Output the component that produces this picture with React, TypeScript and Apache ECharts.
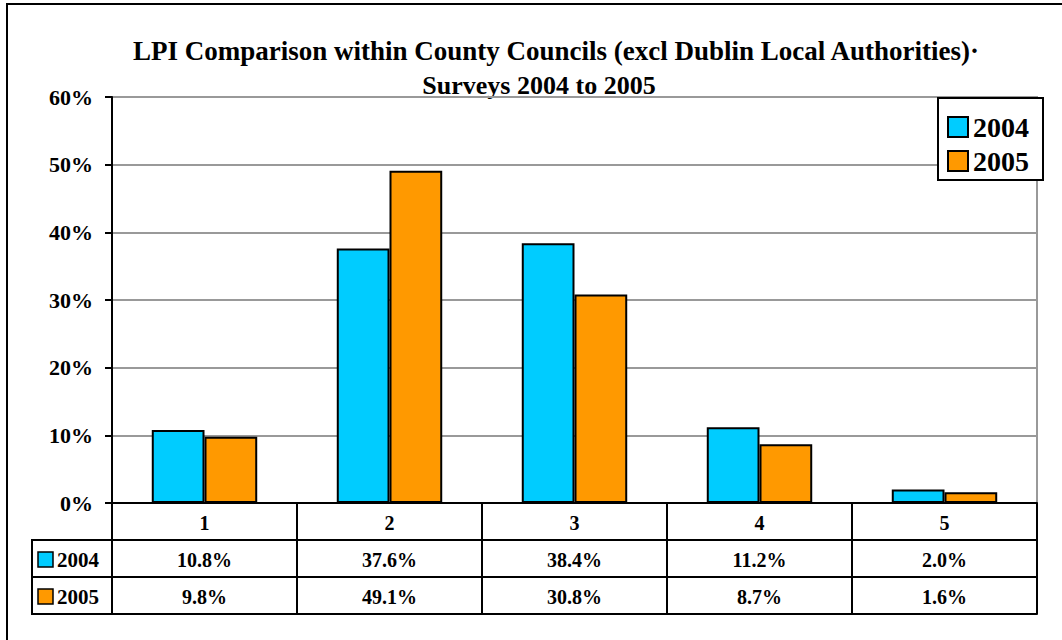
import React, { useEffect, useRef } from "react";
import * as echarts from "echarts";

const categories = ["1", "2", "3", "4", "5"];
const seriesNames = ["2004", "2005"];
const values2004 = [10.8, 37.6, 38.4, 11.2, 2.0];
const values2005 = [9.8, 49.1, 30.8, 8.7, 1.6];
const seriesValues = [values2004, values2005];
const titleLines = [
  "LPI Comparison within County Councils (excl Dublin Local Authorities)·",
  "Surveys 2004 to 2005",
];
const colors = ["#00CCFF", "#FF9900"];

const FONT = "'Liberation Serif', 'Times New Roman', serif";
const fmt = (v: number) => v.toFixed(1) + "%";

export default function App() {
  const ref = useRef<HTMLDivElement>(null);
  useEffect(() => {
    if (!ref.current) return;
    const chart = echarts.init(ref.current, null, { renderer: "svg" });
    const black = { color: "#000", width: 2 };
    const tableLabel = {
      color: "#000",
      fontFamily: FONT,
      fontWeight: "bold" as const,
      fontSize: 20,
      interval: 0,
      margin: 10,
    };
    const rowAxis = (offset: number, vals: number[] | null) => ({
      type: "category",
      data: categories,
      position: "bottom",
      offset,
      axisLine: { show: true, lineStyle: black },
      axisTick: { show: false },
      axisLabel: vals
        ? { ...tableLabel, formatter: (_v: string, i: number) => fmt(vals[i]) }
        : { show: false },
      splitLine: { show: false },
    });

    const graphic: any[] = [
      {
        type: "rect",
        shape: { x: 7, y: 4, width: 1200, height: 1000 },
        style: { fill: "none", stroke: "#000", lineWidth: 2 },
        silent: true,
      },
      {
        type: "text",
        x: 556,
        y: 51,
        style: {
          text: titleLines[0],
          fill: "#000",
          font: `bold 27px ${FONT}`,
          textAlign: "center",
          textVerticalAlign: "middle",
        },
      },
      {
        type: "text",
        x: 539,
        y: 85,
        style: {
          text: titleLines[1],
          fill: "#000",
          font: `bold 26px ${FONT}`,
          textAlign: "center",
          textVerticalAlign: "middle",
        },
      },
      {
        type: "rect",
        shape: { x: 32, y: 540, width: 80, height: 74 },
        style: { fill: "none", stroke: "#000", lineWidth: 2 },
      },
      {
        type: "line",
        shape: { x1: 32, y1: 577, x2: 112, y2: 577 },
        style: { stroke: "#000", lineWidth: 2 },
      },
    ];
    seriesNames.forEach((name, i) => {
      const cy = 559 + i * 37;
      graphic.push({
        type: "rect",
        shape: { x: 38, y: cy - 7, width: 15, height: 15 },
        style: { fill: colors[i], stroke: "#000", lineWidth: 1.5 },
      });
      graphic.push({
        type: "text",
        x: 57,
        y: cy + 1,
        style: {
          text: name,
          fill: "#000",
          font: `bold 21px ${FONT}`,
          textAlign: "left",
          textVerticalAlign: "middle",
        },
      });
    });

    chart.setOption({
      animation: false,
      backgroundColor: "#fff",
      grid: {
        left: 112,
        right: 25,
        top: 97,
        bottom: 137,
        show: true,
        borderColor: "#999",
        borderWidth: 2,
        backgroundColor: "transparent",
      },
      legend: {
        data: seriesNames,
        orient: "vertical",
        left: 938,
        top: 98,
        padding: [15, 14, 5, 9],
        itemGap: 6,
        itemWidth: 20,
        itemHeight: 20,
        icon: "rect",
        borderColor: "#000",
        borderWidth: 2,
        backgroundColor: "#fff",
        textStyle: {
          color: "#000",
          fontFamily: FONT,
          fontWeight: "bold",
          fontSize: 28,
          padding: [0, 0, 0, 0],
        },
      },
      xAxis: [
        {
          type: "category",
          data: categories,
          position: "bottom",
          offset: 0,
          axisLine: { show: true, lineStyle: black },
          axisTick: { show: true, length: 111, interval: 0, lineStyle: black },
          axisLabel: { ...tableLabel },
          splitLine: { show: false },
        },
        rowAxis(37, values2004),
        rowAxis(74, values2005),
        rowAxis(111, null),
      ],
      yAxis: {
        type: "value",
        min: 0,
        max: 60,
        interval: 10,
        axisLine: { show: true, lineStyle: black },
        axisTick: { show: true, length: 7, lineStyle: black },
        axisLabel: {
          formatter: "{value}%",
          color: "#000",
          fontFamily: FONT,
          fontWeight: "bold",
          fontSize: 22,
          margin: 19,
        },
        splitLine: { show: true, lineStyle: { color: "#999", width: 2 } },
      },
      series: seriesNames.map((name, i) => ({
        name,
        type: "bar",
        xAxisIndex: 0,
        data: seriesValues[i],
        barGap: "0%",
        barCategoryGap: "43%",
        itemStyle: { color: colors[i], borderColor: "#000", borderWidth: 2 },
      })),
      graphic,
    });
    return () => chart.dispose();
  }, []);
  return (
    <div
      ref={ref}
      style={{ position: "fixed", left: 0, top: 0, width: 1062, height: 640 }}
    />
  );
}
